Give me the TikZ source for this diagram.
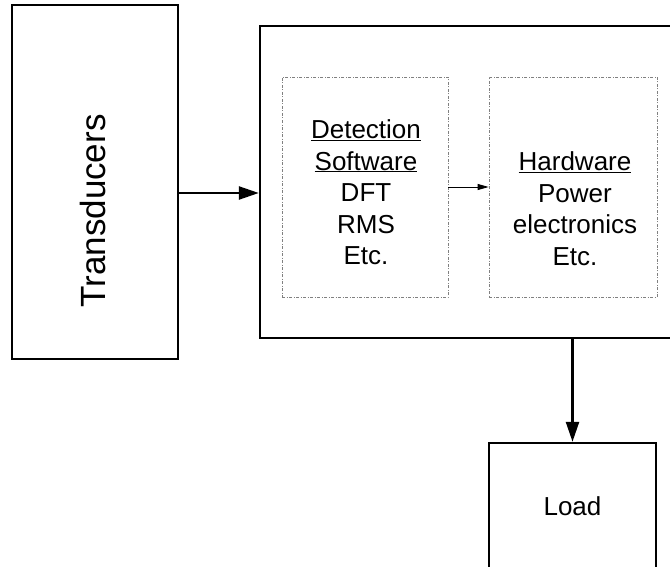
\documentclass[tikz,border=0pt]{standalone}
\usepackage{fontspec}
\setmainfont{Liberation Sans}
\usetikzlibrary{arrows.meta}

\begin{document}
\begin{tikzpicture}[x=1pt,y=-1pt]
		% Define styles for the blocks, labels and arrows
		\tikzset{
			block/.style={draw, line width=2.4pt, inner sep=0pt},
			inner/.style={draw=gray, line width=0.8pt, dash pattern=on 3pt off 1.5pt on 1pt off 1.5pt, inner sep=0pt},
			txt/.style={align=center, inner sep=0pt, font=\fontsize{26}{31.5}\selectfont},
			arr/.style={-{Triangle[length=20pt,width=13pt]}, line width=2.4pt},
			smallarr/.style={-{Triangle[length=11pt,width=6pt]}, line width=0.8pt}
		}
		
		% Fix the frame of the picture
		\useasboundingbox (0,0) rectangle (670,567);
		\clip (0,0) rectangle (670,567);
		
		% Draw the outer blocks
		\node[block, minimum width=166pt, minimum height=354pt] (trans) at (95,182) {};
		\node[txt, rotate=90, font=\fontsize{35}{42}\selectfont] (translbl) at (93,211) {Transducers};
		\node[block, minimum width=430pt, minimum height=312pt] (main) at (475,182) {};
		\node[block, txt, minimum width=167pt, minimum height=126pt] (load) at (572.5,506) {Load};
		
		% Draw the dotted blocks inside the main block
		\node[inner, minimum width=166pt, minimum height=220pt] (soft) at (365,187) {};
		\node[inner, minimum width=168pt, minimum height=220pt] (hard) at (573,187) {};
		
		% Add the texts of the dotted blocks
		\node[txt, anchor=north] (softtxt) at (366,119.5) {\underline{Detection}\\\underline{Software}\\DFT\\RMS\\Etc.};
		\node[txt, anchor=north] (hardtxt) at (575,151.5) {\underline{Hardware}\\Power\\electronics\\Etc.};
		
		% Draw the connecting arrows
		\draw[arr] ([yshift=-11pt]trans.east) -- ([yshift=-11pt]main.west);
		\draw[smallarr] (soft) -- (hard);
		\draw[arr] (main.south -| load.north) -- (load);
	\end{tikzpicture}
\end{document}
